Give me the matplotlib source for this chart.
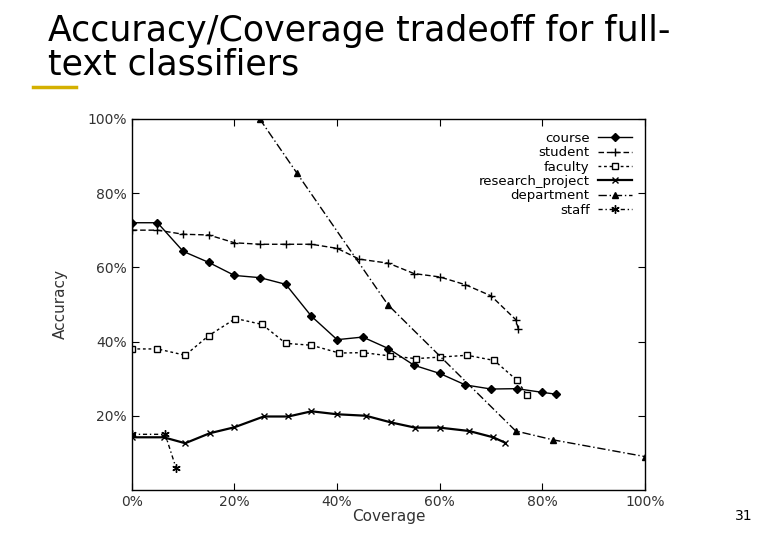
import matplotlib
matplotlib.use("Agg")
import matplotlib.pyplot as plt
from matplotlib.ticker import FuncFormatter

course_x = [0, 5, 10, 15, 20, 25, 30, 35, 40, 45, 50, 55, 60, 65, 70, 75, 80, 82.7]
course_y = [72, 72, 64.3, 61.3, 57.8, 57.2, 55.4, 46.8, 40.5, 41.2, 38.1, 33.6, 31.4, 28.3, 27.2, 27.3, 26.3, 25.8]
student_x = [0, 5, 10, 15, 20, 25, 30, 35, 40, 44.3, 50, 55, 60, 65, 70, 74.8, 75.3]
student_y = [70, 70, 68.9, 68.7, 66.6, 66.2, 66.2, 66.2, 65.1, 62.2, 61.1, 58.3, 57.4, 55.3, 52.3, 45.9, 43.4]
faculty_x = [0, 5, 10.4, 15, 20.2, 25.4, 30, 35, 40.4, 45.1, 50.4, 55.4, 60.1, 65.3, 70.6, 75.1, 77]
faculty_y = [38, 38, 36.3, 41.6, 46.2, 44.6, 39.5, 39, 36.9, 37, 36.1, 35.4, 35.8, 36.3, 34.9, 29.5, 25.5]
research_x = [0, 6.2, 10.4, 15.2, 20, 25.7, 30.5, 35, 40, 45.6, 50.5, 55.2, 60, 65.7, 70.4, 72.8]
research_y = [14.2, 14.2, 12.6, 15.3, 16.9, 19.8, 19.8, 21.2, 20.4, 20, 18.2, 16.8, 16.8, 15.9, 14.2, 12.7]
department_x = [24.9, 32.1, 49.9, 74.8, 82.1, 100]
department_y = [100, 85.5, 49.9, 15.9, 13.5, 9]
staff_x = [0, 6.5, 8.6]
staff_y = [15, 15, 6]

fig = plt.figure(figsize=(7.8, 5.4), dpi=100)
fig.patch.set_facecolor("white")
ax = fig.add_axes([0.169, 0.0926, 0.658, 0.6874])

k = dict(color="black", linewidth=1.0)
ax.plot(course_x, course_y, "-", marker="D", markersize=4, label="course", **k)
ax.plot(student_x, student_y, linestyle=(0, (4, 2)), marker="+", markersize=6, label="student", **k)
ax.plot(faculty_x, faculty_y, linestyle=(0, (2, 2)), marker="s", markersize=4.5,
        markerfacecolor="white", label="faculty", **k)
ax.plot(research_x, research_y, "-", marker="x", markersize=5, color="black", linewidth=1.6,
        label="research_project")
ax.plot(department_x, department_y, linestyle=(0, (6, 2, 1, 2)), marker="^", markersize=4,
        label="department", **k)
ax.plot(staff_x, staff_y, linestyle=(0, (3, 2, 1, 2)), marker=(6, 2, 0), markersize=6,
        label="staff", **k)

ax.set_xlim(0, 100)
ax.set_ylim(0, 100)
ax.set_xticks(range(0, 101, 20))
ax.set_yticks(range(20, 101, 20))
pct = FuncFormatter(lambda v, p: f"{int(v)}%")
ax.xaxis.set_major_formatter(pct)
ax.yaxis.set_major_formatter(pct)
ax.tick_params(direction="in", top=True, right=True, length=5, labelsize=10, labelcolor="#333333")
for s in ax.spines.values():
    s.set_linewidth(1.0)
ax.set_xlabel("Coverage", fontsize=11, labelpad=0, color="#333333")
ax.set_ylabel("Accuracy", fontsize=11, labelpad=14, color="#333333")

leg = ax.legend(loc="upper right", frameon=False, markerfirst=False, fontsize=9.5,
                handlelength=2.6, labelspacing=0.1, borderaxespad=0.6, handletextpad=0.6)

fig.text(0.061, 0.975, "Accuracy/Coverage tradeoff for full-\ntext classifiers", fontsize=25,
         va="top", ha="left", linespacing=1.0, color="black")
fig.add_artist(plt.Line2D([0.042, 0.098], [0.838, 0.838], color="#d4b000", linewidth=2.5))
fig.text(0.965, 0.045, "31", fontsize=10, ha="right", va="center")

fig.savefig("out.png", dpi=100)
